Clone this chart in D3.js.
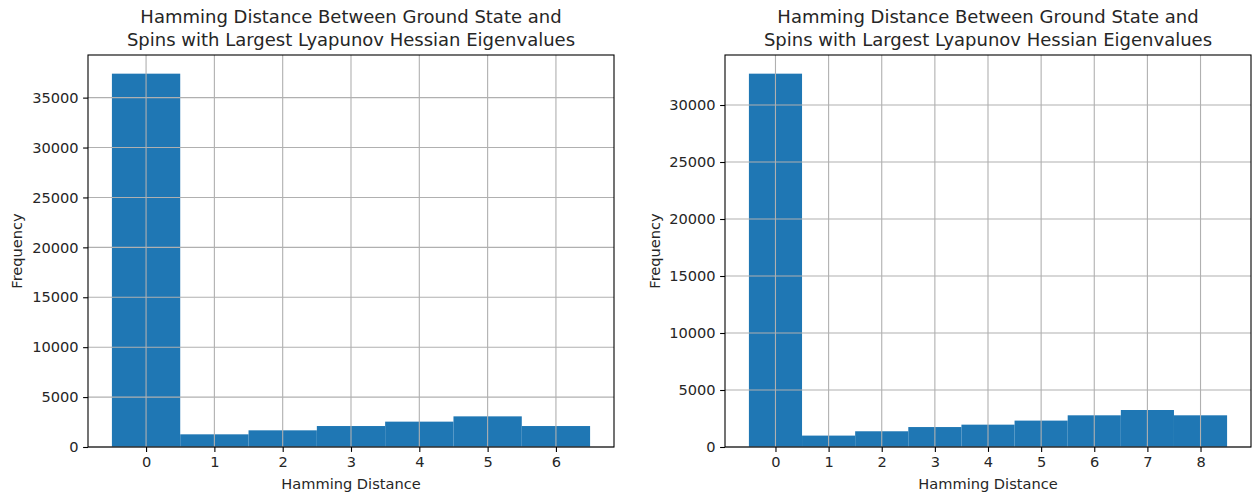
<!DOCTYPE html>
<html>
<head>
<meta charset="utf-8">
<script src="https://cdn.jsdelivr.net/npm/d3@7"></script>
<style>
  html, body { margin: 0; padding: 0; background: #fff; }
  svg { display: block; font-family: "DejaVu Sans", sans-serif; }
</style>
</head>
<body>
<svg id="chart" width="1260" height="496"></svg>
<script>
// Histogram counts per Hamming distance (one bin per integer distance)
const titleLines = [
  "Hamming Distance Between Ground State and",
  "Spins with Largest Lyapunov Hessian Eigenvalues"
];
const leftDistances = [0, 1, 2, 3, 4, 5, 6];
const leftCounts = [37400, 1270, 1670, 2100, 2540, 3070, 2100];
const leftYTicks = [0, 5000, 10000, 15000, 20000, 25000, 30000, 35000];

const rightDistances = [0, 1, 2, 3, 4, 5, 6, 7, 8];
const rightCounts = [32750, 1000, 1380, 1750, 1960, 2315, 2780, 3245, 2780];
const rightYTicks = [0, 5000, 10000, 15000, 20000, 25000, 30000];

const svg = d3.select("#chart");
const barColor = "#1f77b4";
const gridColor = "#b0b0b0";
const textColor = "#262626";
const tickFont = "14.6px";
const titleFont = "18px";

function drawPanel(distances, counts, yTicks, box) {
  const g = svg.append("g");
  const lo = d3.min(distances) - 0.5, hi = d3.max(distances) + 0.5;
  const pad = (hi - lo) * 0.05;
  const x = d3.scaleLinear().domain([lo - pad, hi + pad]).range([box.left, box.right]);
  const y = d3.scaleLinear().domain([0, d3.max(counts) * 1.05]).range([box.bottom, box.top]);

  // bars
  g.selectAll("rect.bar")
    .data(distances.map((d, i) => ({ d, c: counts[i] })))
    .join("rect")
    .attr("class", "bar")
    .attr("x", p => x(p.d - 0.5))
    .attr("width", p => x(p.d + 0.5) - x(p.d - 0.5))
    .attr("y", p => y(p.c))
    .attr("height", p => y(0) - y(p.c))
    .attr("fill", barColor);

  // grid drawn over the bars
  const grid = g.append("g").attr("stroke", gridColor).attr("stroke-width", 1.1);
  grid.selectAll("line.vx").data(distances).join("line")
    .attr("x1", d => x(d)).attr("x2", d => x(d))
    .attr("y1", box.top).attr("y2", box.bottom);
  grid.selectAll("line.hy").data(yTicks).join("line")
    .attr("x1", box.left).attr("x2", box.right)
    .attr("y1", d => y(d)).attr("y2", d => y(d));

  // axes
  const xAxis = d3.axisBottom(x).tickValues(distances).tickSizeInner(4.9).tickSizeOuter(0).tickPadding(4.5).tickFormat(d3.format("d"));
  const yAxis = d3.axisLeft(y).tickValues(yTicks).tickSizeInner(4.9).tickSizeOuter(0).tickPadding(4.5).tickFormat(d3.format("d"));
  const gx = g.append("g").attr("transform", `translate(0,${box.bottom})`).call(xAxis);
  const gy = g.append("g").attr("transform", `translate(${box.left},0)`).call(yAxis);
  [gx, gy].forEach(a => {
    a.select(".domain").remove();
    a.selectAll(".tick line").attr("stroke", "#000").attr("stroke-width", 1.1);
    a.selectAll(".tick text").attr("fill", textColor).style("font-size", tickFont).style("font-family", "DejaVu Sans");
  });

  // frame
  g.append("rect")
    .attr("x", box.left).attr("y", box.top)
    .attr("width", box.right - box.left).attr("height", box.bottom - box.top)
    .attr("fill", "none").attr("stroke", "#000").attr("stroke-width", 1.1);

  const cx = (box.left + box.right) / 2;
  // title
  g.append("text")
    .attr("x", cx).attr("y", 23)
    .attr("text-anchor", "middle").attr("fill", textColor)
    .style("font-size", titleFont)
    .selectAll("tspan").data(titleLines).join("tspan")
    .attr("x", cx).attr("dy", (d, i) => i === 0 ? 0 : 23)
    .text(d => d);

  // axis labels
  g.append("text")
    .attr("x", cx).attr("y", 489)
    .attr("text-anchor", "middle").attr("fill", textColor)
    .style("font-size", tickFont)
    .text("Hamming Distance");
  g.append("text")
    .attr("transform", `translate(${box.yLabelX},${(box.top + box.bottom) / 2}) rotate(-90)`)
    .attr("text-anchor", "middle").attr("fill", textColor)
    .style("font-size", tickFont)
    .text("Frequency");
}

drawPanel(leftDistances, leftCounts, leftYTicks, { left: 88, right: 614, top: 55, bottom: 447, yLabelX: 22 });
drawPanel(rightDistances, rightCounts, rightYTicks, { left: 725, right: 1251, top: 55, bottom: 447, yLabelX: 660 });
</script>
</body>
</html>
